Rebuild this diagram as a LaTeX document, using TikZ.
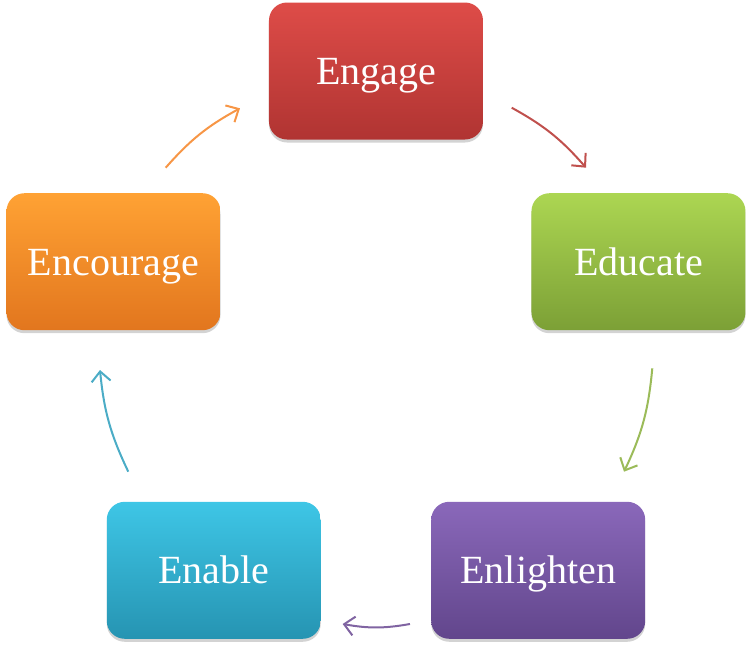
\documentclass[tikz,border=0pt]{standalone}
\usepackage{fontspec}
\setmainfont{Liberation Serif}
\usetikzlibrary{arrows.meta, shadows}
\usepackage{xcolor}
\definecolor{engtop}{RGB}{222,76,72}
\definecolor{engbot}{RGB}{176,52,50}
\definecolor{edutop}{RGB}{172,214,82}
\definecolor{edubot}{RGB}{124,160,54}
\definecolor{enltop}{RGB}{138,104,186}
\definecolor{enlbot}{RGB}{98,70,140}
\definecolor{enatop}{RGB}{62,198,230}
\definecolor{enabot}{RGB}{38,148,178}
\definecolor{enctop}{RGB}{255,162,52}
\definecolor{encbot}{RGB}{226,118,30}
\definecolor{engline}{RGB}{192,80,77}
\definecolor{eduline}{RGB}{155,187,89}
\definecolor{enlline}{RGB}{128,100,162}
\definecolor{enaline}{RGB}{75,172,198}
\definecolor{encline}{RGB}{247,150,70}
\tikzset{
    stage/.style={rectangle, rounded corners=18pt, minimum width=214pt,
        minimum height=137pt, align=center, text=white,
        text height=27pt, text depth=0pt,
        font=\fontsize{40}{44}\selectfont,
        drop shadow={opacity=0.35, shadow xshift=0pt, shadow yshift=-3pt}},
    flow/.style={-{Straight Barb[length=10pt, width=19pt]}, line width=2pt}
}

\begin{document}
\begin{tikzpicture}[x=1pt, y=1pt]
    \useasboundingbox (-376,-302) rectangle (377,347);

    % the five stages round the cycle
    \node[stage, top color=engtop, bottom color=engbot] (engage) at (90:276) {Engage};
    \node[stage, top color=edutop, bottom color=edubot] (educate) at (18:276) {Educate};
    \node[stage, top color=enltop, bottom color=enlbot] (enlighten) at (-54:276) {Enlighten};
    \node[stage, top color=enatop, bottom color=enabot] (enable) at (-126:276) {Enable};
    \node[stage, top color=enctop, bottom color=encbot] (encourage) at (162:276) {Encourage};

    % arc ends between the stages
    \coordinate (engOut) at (135.7,239.3);
    \coordinate (eduIn) at (210,179.3);
    \coordinate (eduOut) at (276.3,-21.3);
    \coordinate (enlIn) at (248,-124.7);
    \coordinate (enlOut) at (34,-277);
    \coordinate (enaIn) at (-33.3,-277);
    \coordinate (enaOut) at (-247.7,-124.7);
    \coordinate (encIn) at (-276,-23);
    \coordinate (encOut) at (-210.3,179.3);
    \coordinate (engIn) at (-136,238.7);

    \draw[flow, engline] (engOut) to[bend left=10] (eduIn);
    \draw[flow, eduline] (eduOut) to[bend left=10] (enlIn);
    \draw[flow, enlline] (enlOut) to[bend left=10] (enaIn);
    \draw[flow, enaline] (enaOut) to[bend left=10] (encIn);
    \draw[flow, encline] (encOut) to[bend left=10] (engIn);

\end{tikzpicture}
\end{document}
